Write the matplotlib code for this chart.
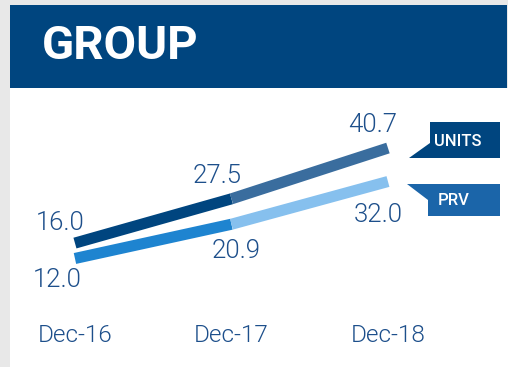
import matplotlib
matplotlib.use("Agg")
import matplotlib.pyplot as plt
from matplotlib.patches import Polygon, Rectangle

# data
periods = ["Dec-16", "Dec-17", "Dec-18"]
units = [16.0, 27.5, 40.7]
prv = [12.0, 20.9, 32.0]

# colours
NAVY = "#00457f"
TEXT = "#1d4f8b"
units_cols = [NAVY, "#3a6d9e"]
prv_cols = ["#1e84d0", "#86c0ee"]

W, H = 508, 367
fig = plt.figure(figsize=(W / 100, H / 100), dpi=100)
fig.patch.set_facecolor("#e8e8e8")


def fx(x, y):
    # pixel position -> figure fraction
    return (x / W, 1 - y / H)


# header band
fig.patches.append(Rectangle(fx(10, 88), 497 / W, 83 / H, transform=fig.transFigure,
                             facecolor=NAVY, edgecolor="none"))
fig.text(*fx(42, 46), "GROUP", color="white", fontsize=34, fontweight="bold",
         family="Roboto", va="center", ha="left")

# plotting area
ax = fig.add_axes([10 / W, 0, 498 / W, (H - 88) / H])
ax.set_facecolor("white")
for s in ax.spines.values():
    s.set_visible(False)
ax.set_xticks([])
ax.set_yticks([])
ax.set_xlim(-0.415, 2.767)
ax.set_ylim(-16.2, 56.3)

xs = list(range(len(periods)))
lw = 8
for i in range(len(xs) - 1):
    ax.plot(xs[i:i + 2], units[i:i + 2], color=units_cols[i], lw=lw,
            solid_capstyle="butt", zorder=3)
    ax.plot(xs[i:i + 2], prv[i:i + 2], color=prv_cols[i], lw=lw,
            solid_capstyle="butt", zorder=2)

fkw = dict(family="Roboto", fontweight=300, color=TEXT)

# value labels
ax.annotate(f"{units[0]:.1f}", (xs[0], units[0]), xytext=(10, 8), textcoords="offset pixels",
            ha="right", va="bottom", fontsize=18.5, **fkw)
ax.annotate(f"{prv[0]:.1f}", (xs[0], prv[0]), xytext=(7, -10), textcoords="offset pixels",
            ha="right", va="top", fontsize=18.5, **fkw)
ax.annotate(f"{units[1]:.1f}", (xs[1], units[1]), xytext=(10, 11), textcoords="offset pixels",
            ha="right", va="bottom", fontsize=18.5, **fkw)
ax.annotate(f"{prv[1]:.1f}", (xs[1], prv[1]), xytext=(5, -15), textcoords="offset pixels",
            ha="center", va="top", fontsize=18.5, **fkw)
ax.annotate(f"{units[2]:.1f}", (xs[2], units[2]), xytext=(9, 11), textcoords="offset pixels",
            ha="right", va="bottom", fontsize=18.5, **fkw)
ax.annotate(f"{prv[2]:.1f}", (xs[2], prv[2]), xytext=(15, -21), textcoords="offset pixels",
            ha="right", va="top", fontsize=18.5, **fkw)

# category labels
for x, lab in zip(xs, periods):
    ax.text(x, -7.9, lab, ha="center", va="center", fontsize=17.5, **fkw)

# series tags
tags = [
    ("UNITS", NAVY, [(430, 122), (500, 122), (500, 158), (409, 158), (430, 143)], (458, 141)),
    ("PRV", "#1b65a9", [(407, 184), (500, 184), (500, 216), (428, 216), (428, 200)], (454, 200)),
]
for name, col, pts, tpos in tags:
    fig.patches.append(Polygon([fx(*p) for p in pts], closed=True, transform=fig.transFigure,
                               facecolor=col, edgecolor="none"))
    fig.text(*fx(*tpos), name, color="white", fontsize=12, fontweight="medium",
             family="Roboto", ha="center", va="center")

fig.savefig("out.png", dpi=100, facecolor=fig.get_facecolor())
